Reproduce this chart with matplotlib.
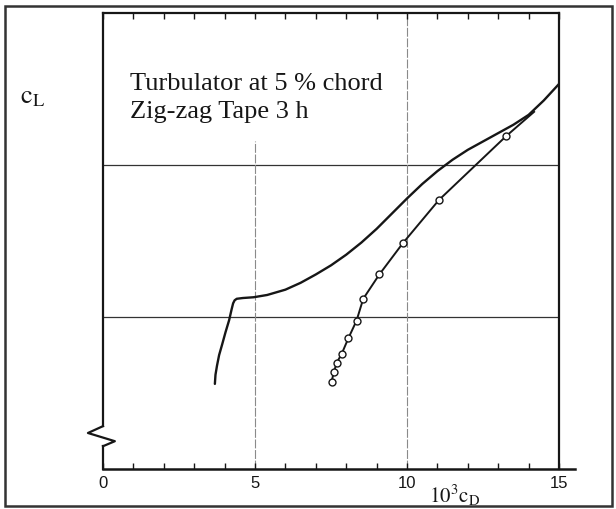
import matplotlib
matplotlib.use("Agg")
import matplotlib.pyplot as plt
from matplotlib.ticker import FixedLocator, MultipleLocator
from matplotlib.patches import Rectangle

plt.rcParams["mathtext.fontset"] = "stix"

cd_smooth = [3.68, 3.70, 3.75, 3.82, 3.92, 4.03, 4.15, 4.23, 4.28, 4.33, 4.40,
             4.60, 4.95, 5.4, 6.0, 6.5, 7.0, 7.5, 8.0, 8.5, 9.0, 9.5, 10.0,
             10.5, 11.0, 11.5, 12.0, 12.5, 13.0, 13.5, 14.0, 14.5, 15.03]
cl_smooth = [0.56, 0.62, 0.68, 0.75, 0.82, 0.90, 0.98, 1.05, 1.09, 1.11, 1.12,
             1.125, 1.13, 1.145, 1.18, 1.225, 1.28, 1.34, 1.41, 1.49, 1.58, 1.68, 1.78,
             1.875, 1.96, 2.035, 2.10, 2.155, 2.21, 2.265, 2.33, 2.425, 2.54]

# Measured points (open circles), faired line runs on past the last one
cd_points = [7.52, 7.59, 7.69, 7.85, 8.07, 8.34, 8.56, 9.09, 9.86, 11.05, 13.26]
cl_points = [0.575, 0.636, 0.70, 0.757, 0.86, 0.976, 1.12, 1.28, 1.485, 1.77, 2.19]
cd_line_end = 14.18
cl_line_end = 2.35

x_ticks = [0, 5, 10, 15]
x_tick_labels = ["0", "5", "10", "15"]
h_grid = [1, 2]

# zig-zag break on the cL axis (axes fractions)
break_x = [0.0, -0.033, 0.026, 0.0]
break_y = [0.094, 0.079, 0.061, 0.050]

INK = "#161616"

fig = plt.figure(figsize=(6.16, 5.10), dpi=100)
ax = fig.add_axes([0.1672, 0.0784, 0.7403, 0.8941])
ax.set_xlim(0, 15)
ax.set_ylim(0, 3)

# outer frame round the whole picture
fig.patches.append(Rectangle((0.008, 0.006), 0.986, 0.981, transform=fig.transFigure,
                             fill=False, lw=1.8, ec="#333333"))

# grid
for y in h_grid:
    ax.axhline(y, color="#333333", lw=0.9, zorder=1)
ax.axvline(5, ymax=0.719, color="#8a8a8a", lw=0.8, ls=(0, (8, 1.5)), zorder=1)
ax.axvline(10, color="#8a8a8a", lw=0.8, ls=(0, (8, 1.5)), zorder=1)

# curves
ax.plot(cd_smooth, cl_smooth, color=INK, lw=1.7, zorder=3,
        solid_joinstyle="round", solid_capstyle="round")
ax.plot(cd_points + [cd_line_end], cl_points + [cl_line_end], color=INK, lw=1.4,
        marker="o", ms=5, mfc="white", mec=INK, mew=1.0,
        markevery=list(range(len(cd_points))), zorder=3)

# spines: left one broken by a zig-zag, bottom runs past 15
for s in ["top", "right"]:
    ax.spines[s].set_linewidth(1.6)
    ax.spines[s].set_color(INK)
ax.spines["left"].set_visible(False)
ax.spines["bottom"].set_visible(False)
ax.plot([0, 0], [break_y[0], 1], transform=ax.transAxes, color=INK, lw=1.6, clip_on=False)
ax.plot([0, 0], [0, break_y[-1]], transform=ax.transAxes, color=INK, lw=1.6, clip_on=False)
ax.plot(break_x, break_y, transform=ax.transAxes, color=INK, lw=1.6, clip_on=False)
ax.plot([0, 1.034], [0, 0], transform=ax.transAxes, color=INK, lw=1.8, clip_on=False)

# ticks
ax.xaxis.set_major_locator(FixedLocator(x_ticks))
ax.xaxis.set_minor_locator(MultipleLocator(1))
ax.set_xticklabels(x_tick_labels, family=["Liberation Sans Narrow", "Liberation Sans"],
                   fontsize=12, color=INK)
ax.tick_params(axis="x", which="both", direction="in", top=True, length=4.5,
               width=1.0, color=INK, pad=4)
ax.set_yticks([])

# labels
ax.text(-0.155, 0.82, r"$\mathrm{c_L}$", transform=ax.transAxes, fontsize=19,
        ha="center", va="center", color=INK)
ax.text(0.77, -0.055, r"$\mathrm{10^3c_D}$", transform=ax.transAxes, fontsize=15,
        ha="center", va="center", color=INK)

ax.text(0.89, 2.5, "Turbulator at 5 % chord", family="Liberation Serif",
        fontsize=19, color=INK, va="baseline")
ax.text(0.89, 2.316, "Zig-zag Tape 3 h", family="Liberation Serif",
        fontsize=19, color=INK, va="baseline")

fig.savefig("out.png", dpi=100)
